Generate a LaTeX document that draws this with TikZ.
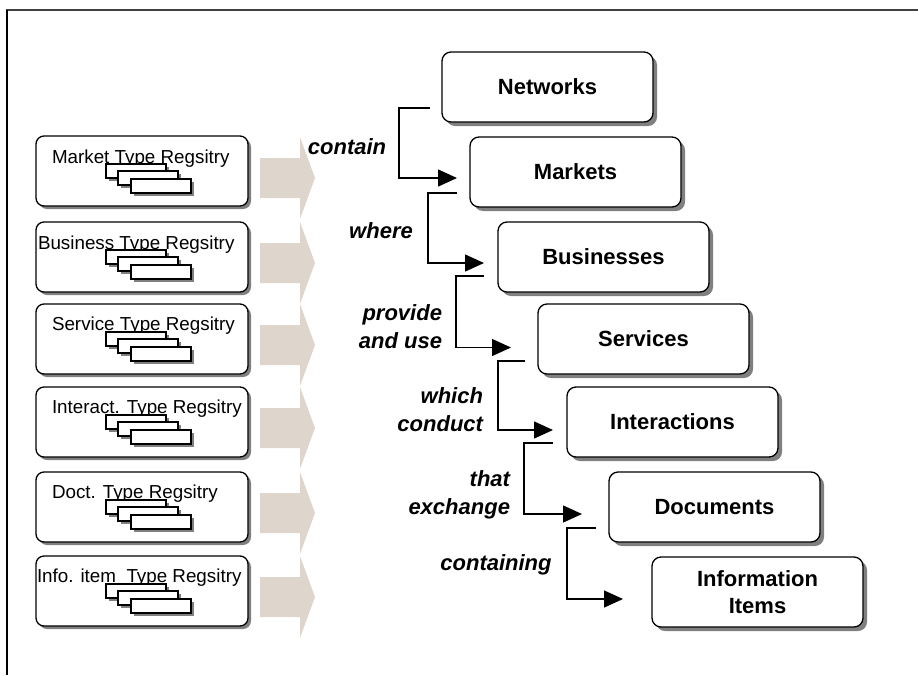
\documentclass[tikz,border=0pt]{standalone}
\usepackage{fontspec}
\setmainfont{Liberation Sans}
\usetikzlibrary{calc,arrows.meta,shadows}
\definecolor{flowgray}{RGB}{222,214,204}
\definecolor{shadowgray}{RGB}{128,128,128}
\newcommand{\regstack}[1]{%
  \foreach \dx/\dy in {70/28,82/35,95/43}{%
    \fill[minishadow] ($(#1.north west)+(\dx+2.5,\dy+2.5)$) rectangle ++(60,14);
    \draw[minibox] ($(#1.north west)+(\dx,\dy)$) rectangle ++(60,14);
  }}
\begin{document}
\begin{tikzpicture}[x=1pt,y=-1pt,
  every node/.style={inner sep=0pt, outer sep=0pt},
  regbox/.style={draw, line width=1.3pt, rounded corners=8pt, minimum width=212pt, minimum height=70pt, fill=white, anchor=north west,
    drop shadow={shadow xshift=3pt, shadow yshift=-3pt, fill=shadowgray, opacity=1}},
  regtext/.style={anchor=west, font=\fontsize{18.8}{21}\selectfont},
  minibox/.style={draw, fill=white, line width=1.2pt},
  minishadow/.style={fill=shadowgray},
  topic/.style={draw, line width=1.3pt, rounded corners=9pt, minimum width=211pt, minimum height=70pt, fill=white, anchor=north west,
    align=center, font=\fontsize{22}{27}\selectfont\bfseries,
    drop shadow={shadow xshift=4pt, shadow yshift=-4pt, fill=shadowgray, opacity=1}},
  verb/.style={font=\fontsize{22}{28}\selectfont\bfseries\itshape, align=right},
  conn/.style={line width=1.3pt, -{Triangle[length=19pt,width=17pt]}},
  flow/.style={fill=flowgray}
]
\useasboundingbox (0,0) rectangle (918,675);
% frame
\draw[line width=2.5pt, black!75] (6,10) -- (918,10);
\draw[line width=2pt] (7,10) -- (7,675);

% registry boxes
\node[regbox] (r1) at (36,136) {};
\node[regbox] (r2) at (36,222) {};
\node[regbox] (r3) at (36,304) {};
\node[regbox] (r4) at (36,387) {};
\node[regbox] (r5) at (36,472) {};
\node[regbox] (r6) at (36,556) {};

\node[regtext] (t1) at ($(r1.north west)+(16,23)$) {Market Type Regsitry};
\node[regtext] (t2) at ($(r2.north west)+(2,23)$) {Business Type Regsitry};
\node[regtext] (t3) at ($(r3.north west)+(16,22)$) {Service Type Regsitry};
\node[regtext] (t4) at ($(r4.north west)+(16,22)$) {Interact. Type Regsitry};
\node[regtext] (t5) at ($(r5.north west)+(16,22)$) {Doct. Type Regsitry};
\node[regtext] (t6) at ($(r6.north west)+(1,22)$) {Info. item\ \ Type Regsitry};

\regstack{r1}
\regstack{r2}
\regstack{r3}
\regstack{r4}
\regstack{r5}
\regstack{r6}

% flow arrows
\foreach \c in {178,263,345,428,513,597}{
  \fill[flow] (260,\c-20) -- (300,\c-20) -- (300,\c-41) -- (315,\c) -- (300,\c+41) -- (300,\c+20) -- (260,\c+20) -- cycle;
}

% topic boxes
\node[topic] (net) at (442,52) {Networks};
\node[topic] (mkt) at (470,137) {Markets};
\node[topic] (bus) at (498,222) {Businesses};
\node[topic] (srv) at (538,304) {Services};
\node[topic] (int) at (567,387) {Interactions};
\node[topic] (doc) at (609,472) {Documents};
\node[topic] (inf) at (652,557) {Information\\Items};

% connectors
\coordinate (s1) at ($(net.south west)+(-12,-14)$);
\coordinate (e1) at ($(mkt.west)+(-13,6)$);
\coordinate (s2) at ($(mkt.south west)+(-13,-14)$);
\coordinate (e2) at ($(bus.west)+(-14,6)$);
\coordinate (s3) at ($(bus.south west)+(-14,-16)$);
\coordinate (e3) at ($(srv.west)+(-27,8.5)$);
\coordinate (s4) at ($(srv.south west)+(-13,-13)$);
\coordinate (e4) at ($(int.west)+(-14,8)$);
\coordinate (s5) at ($(int.south west)+(-14,-14)$);
\coordinate (e5) at ($(doc.west)+(-27,7)$);
\coordinate (s6) at ($(doc.south west)+(-13,-14)$);
\coordinate (e6) at ($(inf.west)+(-29,7)$);

\draw[conn] (s1) -- ++(-31,0) |- (e1);
\draw[conn] (s2) -- ++(-29,0) |- (e2);
\draw[conn] (s3) -- ++(-28,0) |- (e3);
\draw[conn] (s4) -- ++(-27,0) |- (e4);
\draw[conn] (s5) -- ++(-29,0) |- (e5);
\draw[conn] (s6) -- ++(-29,0) |- (e6);

% labels
\node[verb] (l1) at (347,147) {contain};
\node[verb] (l2) at (381,231) {where};
\node[verb, anchor=east] (l3) at (442,327) {provide\\and use};
\node[verb, anchor=east] (l4) at (483,410) {which\\conduct};
\node[verb, anchor=east] (l5) at (510,495) {that\\exchange};
\node[verb] (l6) at (496,565) {containing};
\end{tikzpicture}
\end{document}
